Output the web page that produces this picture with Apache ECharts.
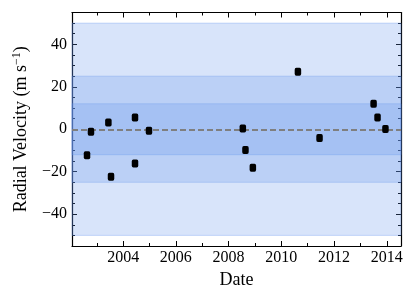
<!DOCTYPE html>
<html>
<head>
<meta charset="utf-8">
<script src="https://cdn.jsdelivr.net/npm/echarts@6/dist/echarts.min.js"></script>
<style>html,body{margin:0;padding:0;background:#fff}#c{width:416px;height:300px}</style>
</head>
<body>
<div id="c"></div>
<script>
// Data
var dates = [2002.63, 2002.78, 2003.44, 2003.54, 2004.45, 2004.45, 2004.98, 2008.54, 2008.64, 2008.92, 2010.63, 2011.45, 2013.50, 2013.65, 2013.95];
var rv    = [-12.3, -1.2, 3.2, -22.4, 5.5, -16.1, -0.7, 0.4, -9.8, -18.1, 27.1, -4.1, 12.0, 5.5, 0.1];
var bandHalfWidths = [50, 25, 12];
var xMajorTicks = [2004, 2006, 2008, 2010, 2012, 2014];
var xMinorTicks = [2003, 2005, 2007, 2009, 2011, 2013];
var yMajorTicks = [-40, -20, 0, 20, 40];
var yMinorTicks = [-50, -45, -35, -30, -25, -15, -10, -5, 5, 10, 15, 25, 30, 35, 45, 50];
var xRange = [2002.06, 2014.54];
var yRange = [-55, 55];

var FONT = 'Liberation Serif';
var points = dates.map(function (d, i) { return [d, rv[i]]; });
function fmt(v) { return String(v).replace('-', '\u2212'); }

function xAxisDef(pos, ticks, major, withLabel) {
  return {
    type: 'value', position: pos, min: xRange[0], max: xRange[1],
    axisLine: { show: major, onZero: false, lineStyle: { color: '#000', width: 1.2 } },
    axisTick: { show: true, inside: true, length: major ? 5 : 3, customValues: ticks, lineStyle: { color: '#000', width: 1 } },
    axisLabel: withLabel ? { show: true, customValues: ticks, fontFamily: FONT, fontSize: 16, color: '#000', margin: 4, formatter: function (v) { return String(v); } } : { show: false },
    splitLine: { show: false },
    name: withLabel ? 'Date' : '', nameLocation: 'middle', nameGap: 23,
    nameTextStyle: { fontFamily: FONT, fontSize: 18, color: '#000' }
  };
}
function yAxisDef(pos, ticks, major, withLabel) {
  return {
    type: 'value', position: pos, min: yRange[0], max: yRange[1],
    axisLine: { show: major, onZero: false, lineStyle: { color: '#000', width: 1.2 } },
    axisTick: { show: true, inside: true, length: major ? 5 : 3, customValues: ticks, lineStyle: { color: '#000', width: 1 } },
    axisLabel: withLabel ? { show: true, customValues: ticks, fontFamily: FONT, fontSize: 16, color: '#000', margin: 5, formatter: fmt } : { show: false },
    splitLine: { show: false },
    name: withLabel ? 'Radial Velocity (m s{sup|\u22121})' : '', nameLocation: 'middle', nameGap: 41, nameRotate: 90,
    nameTextStyle: {
      fontFamily: FONT, fontSize: 18, color: '#000',
      rich: { sup: { fontFamily: FONT, fontSize: 12, color: '#000', verticalAlign: 'top', padding: [0, 0, 8, 0] } }
    }
  };
}

var bandColors = ['rgba(100,149,237,0.25)', 'rgba(100,149,237,0.25)', 'rgba(100,149,237,0.25)'];
var bandSeries = bandHalfWidths.map(function (h, i) {
  return {
    type: 'line', data: [], xAxisIndex: 0, yAxisIndex: 0, silent: true,
    markArea: {
      silent: true,
      itemStyle: { color: bandColors[i], borderColor: 'rgba(100,149,237,0.3)', borderWidth: 1 },
      data: [[{ yAxis: -h }, { yAxis: h }]]
    }
  };
});

var chart = echarts.init(document.getElementById('c'), null, { renderer: 'canvas' });
chart.setOption({
  animation: false,
  backgroundColor: '#fff',
  grid: { left: 72, right: 15, top: 12.5, bottom: 54, containLabel: false },
  xAxis: [
    xAxisDef('bottom', xMajorTicks, true, true),
    xAxisDef('bottom', xMinorTicks, false, false),
    xAxisDef('top', xMajorTicks, true, false),
    xAxisDef('top', xMinorTicks, false, false)
  ],
  yAxis: [
    yAxisDef('left', yMajorTicks, true, true),
    yAxisDef('left', yMinorTicks, false, false),
    yAxisDef('right', yMajorTicks, true, false),
    yAxisDef('right', yMinorTicks, false, false)
  ],
  series: bandSeries.concat([
    {
      type: 'line', data: [], xAxisIndex: 0, yAxisIndex: 0, silent: true,
      markLine: {
        silent: true, symbol: 'none', label: { show: false },
        lineStyle: { color: '#7f7f7f', type: [6, 3], width: 1.8 },
        data: [{ yAxis: 0 }]
      }
    },
    {
      type: 'scatter', xAxisIndex: 0, yAxisIndex: 0, data: points,
      symbol: 'roundRect', symbolSize: [6.5, 8],
      itemStyle: { color: '#000', opacity: 1 }, z: 5
    }
  ])
});
</script>
</body>
</html>
